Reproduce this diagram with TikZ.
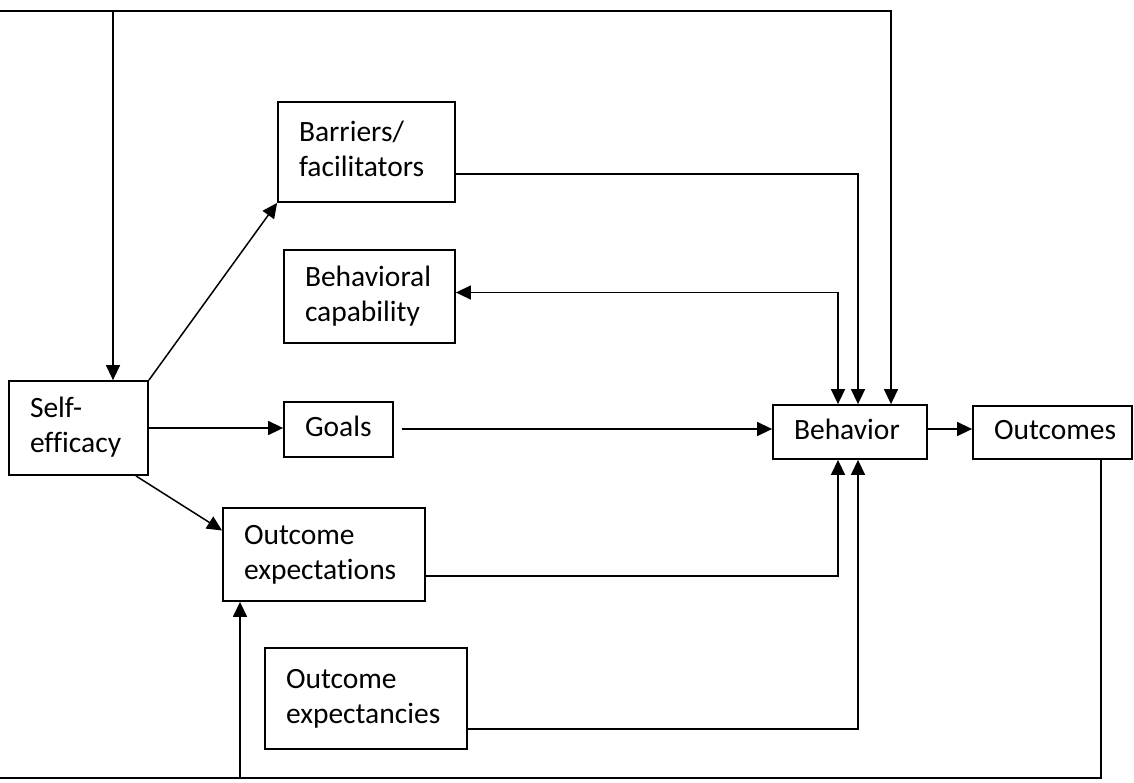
\documentclass[tikz,border=0pt]{standalone}
\usepackage{fontspec}
\setmainfont{Carlito}[Ligatures=NoCommon]
\usetikzlibrary{arrows.meta,calc}
\begin{document}
\begin{tikzpicture}[x=1pt,y=-1pt,
  box/.style={draw,line width=1.8pt,inner xsep=21pt,inner ysep=0pt,align=left,
    font=\fontsize{29.5}{35}\selectfont,anchor=center},
  conn/.style={line width=1.5pt,-{Triangle[length=15pt,width=14pt]}},
  bconn/.style={line width=1.5pt,{Triangle[length=15pt,width=14pt]}-{Triangle[length=15pt,width=14pt]}},
  plain/.style={line width=1.5pt}]
\useasboundingbox (0,0) rectangle (1134,782);
\node[box,text width=97pt,minimum height=94pt] (se) at (78.5,428) {\strut Self-\\efficacy\strut};
\node[box,text width=135pt,minimum height=100pt] (bf) at (366.5,152) {\strut Barriers/\\facilitators\strut};
\node[box,text width=129pt,minimum height=93pt] (bc) at (369.5,296.5) {\strut Behavioral\\capability\strut};
\node[box,text width=67pt,minimum height=55pt] (go) at (338.5,429.5) {\strut Goals\strut};
\node[box,text width=160pt,minimum height=93pt] (oe) at (324,554.5) {\strut Outcome\\expectations\strut};
\node[box,text width=160pt,minimum height=101pt] (oc) at (366,698.5) {\strut Outcome\\expectancies\strut};
\node[box,text width=112pt,minimum height=54pt] (be) at (850,432) {\strut Behavior\strut};
\node[box,text width=117pt,minimum height=53pt] (ou) at (1052.5,432.5) {\strut Outcomes\strut};
\coordinate (topy) at (0,11);
\coordinate (boty) at (0,778);
% top loop
\draw[bconn] ([xshift=34.5pt]se.north) |- (topy) -| ([xshift=41pt]be.north);
% barriers -> behavior
\draw[conn] ([yshift=-22pt]bf.east) -| ([xshift=8pt]be.north);
% behavior <-> behavioral capability
\draw[bconn] ([yshift=4pt]bc.east) -| ([xshift=-12pt]be.north);
% self-efficacy -> barriers
\draw[conn] (se.north east) -- (bf.south west);
% self-efficacy -> goals
\draw[conn] (se.east) -- (se.east -| go.west);
% goals -> behavior
\draw[conn] ([xshift=8pt,yshift=0.5pt]go.east) -- ([yshift=0.5pt]go.east -| be.west);
% behavior -> outcomes
\draw[conn] ([yshift=3pt]be.east) -- ([yshift=3pt]be.east -| ou.west);
% self-efficacy -> outcome expectations
\draw[conn] ([xshift=-13pt]se.south east) -- ([yshift=24pt]oe.west);
% outcome expectations -> behavior
\draw[conn] ([yshift=-21.5pt]oe.east) -| ([xshift=-12pt]be.south);
% outcome expectancies -> behavior
\draw[conn] ([yshift=-30.5pt]oc.east) -| ([xshift=8pt]be.south);
% outcomes feedback -> outcome expectations
\draw[conn] ([xshift=48.5pt]ou.south) |- (boty) -| ([xshift=-84pt]oe.south);
\end{tikzpicture}
\end{document}
